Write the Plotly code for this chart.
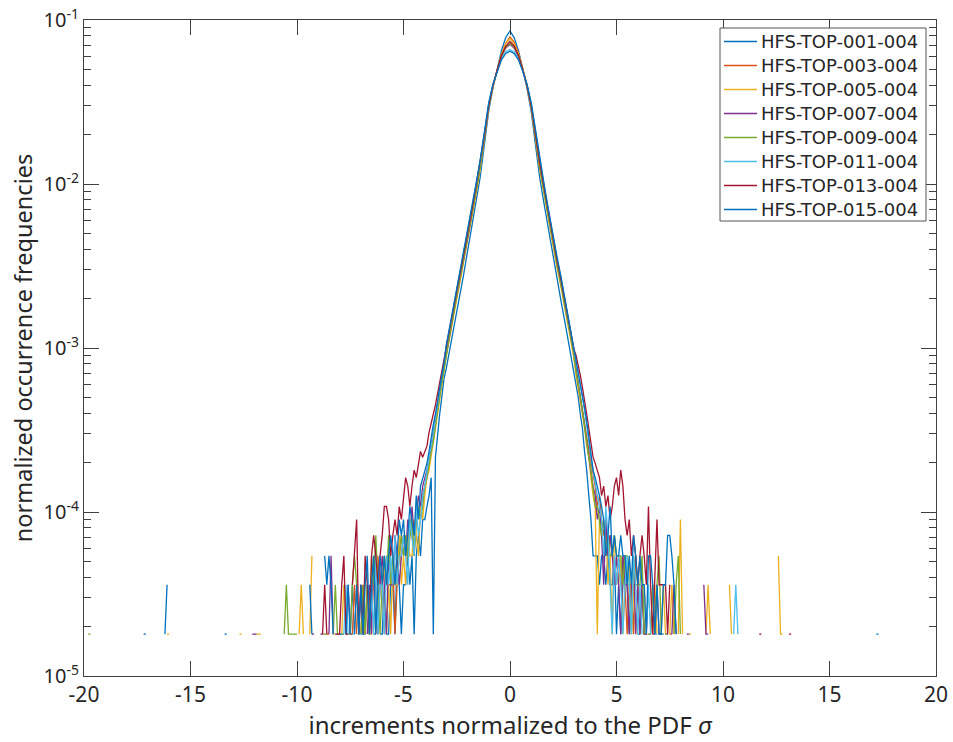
import plotly.graph_objects as go

# ---------------- data ----------------
UNIT = 1.8e-5  # normalized frequency of one single occurrence (one count in a 0.1-wide bin)

names = ["HFS-TOP-001-004", "HFS-TOP-003-004", "HFS-TOP-005-004", "HFS-TOP-007-004",
         "HFS-TOP-009-004", "HFS-TOP-011-004", "HFS-TOP-013-004", "HFS-TOP-015-004"]
colors = ["#0072BD", "#D95319", "#EDB120", "#7E2F8E", "#77AC30", "#4DBEEE", "#A2142F", "#0072BD"]

# central part of the PDF (frequencies), sampled every 0.2
x_core = [-3.0, -2.8, -2.6, -2.4, -2.2, -2.0, -1.8, -1.6, -1.4, -1.2, -1.0, -0.8, -0.6, -0.4, -0.2,
          0.0, 0.2, 0.4, 0.6, 0.8, 1.0, 1.2, 1.4, 1.6, 1.8, 2.0, 2.2, 2.4, 2.6, 2.8, 3.0]

core_001 = [0.000740, 0.00104, 0.00142, 0.00196, 0.00270, 0.00378, 0.00540, 0.00770, 0.0110, 0.0175, 0.0278,
            0.0385, 0.0505, 0.0652, 0.0782, 0.0857, 0.0779, 0.0648, 0.0501, 0.0382, 0.0274, 0.0172,
            0.0108, 0.00757, 0.00530, 0.00371, 0.00266, 0.00192, 0.00139, 0.00100, 0.000711]
core_003 = [0.000930, 0.00124, 0.00178, 0.00236, 0.00330, 0.00440, 0.00640, 0.00880, 0.0128, 0.0189, 0.0298,
            0.0395, 0.0498, 0.0620, 0.0722, 0.0790, 0.0730, 0.0628, 0.0505, 0.0400, 0.0292, 0.0193,
            0.0124, 0.00900, 0.00625, 0.00452, 0.00318, 0.00244, 0.00170, 0.00128, 0.000900]
core_005 = [0.000880, 0.00122, 0.00168, 0.00232, 0.00316, 0.00432, 0.00612, 0.00862, 0.0122, 0.0186, 0.0290,
            0.0392, 0.0500, 0.0618, 0.0716, 0.0770, 0.0715, 0.0620, 0.0498, 0.0392, 0.0288, 0.0186,
            0.0122, 0.00868, 0.00612, 0.00434, 0.00314, 0.00232, 0.00168, 0.00122, 0.000880]
core_007 = [0.000950, 0.00130, 0.00180, 0.00248, 0.00334, 0.00462, 0.00650, 0.00920, 0.0130, 0.0196, 0.0300,
            0.0400, 0.0492, 0.0600, 0.0675, 0.0710, 0.0672, 0.0598, 0.0494, 0.0398, 0.0298, 0.0195,
            0.0130, 0.00915, 0.00650, 0.00460, 0.00335, 0.00246, 0.00178, 0.00130, 0.000940]
core_009 = [0.000920, 0.00127, 0.00175, 0.00242, 0.00326, 0.00450, 0.00632, 0.00895, 0.0127, 0.0193, 0.0298,
            0.0398, 0.0496, 0.0604, 0.0680, 0.0722, 0.0682, 0.0606, 0.0497, 0.0399, 0.0296, 0.0192,
            0.0127, 0.00890, 0.00630, 0.00445, 0.00326, 0.00240, 0.00174, 0.00126, 0.000915]
core_011 = [0.00100, 0.00139, 0.00192, 0.00264, 0.00356, 0.00492, 0.00694, 0.00980, 0.0138, 0.0205, 0.0310,
            0.0405, 0.0490, 0.0580, 0.0640, 0.0662, 0.0638, 0.0578, 0.0488, 0.0404, 0.0308, 0.0206,
            0.0139, 0.00985, 0.00692, 0.00490, 0.00356, 0.00264, 0.00191, 0.00138, 0.00100]
core_013 = [0.00100, 0.00137, 0.00188, 0.00258, 0.00350, 0.00482, 0.00680, 0.00960, 0.0135, 0.0200, 0.0302,
            0.0400, 0.0496, 0.0608, 0.0690, 0.0740, 0.0692, 0.0606, 0.0495, 0.0398, 0.0300, 0.0199,
            0.0134, 0.00955, 0.00678, 0.00482, 0.00348, 0.00258, 0.00188, 0.00136, 0.000985]
core_015 = [0.00103, 0.00142, 0.00196, 0.00270, 0.00362, 0.00500, 0.00705, 0.00995, 0.0140, 0.0208, 0.0312,
            0.0406, 0.0488, 0.0572, 0.0625, 0.0645, 0.0624, 0.0570, 0.0487, 0.0405, 0.0311, 0.0208,
            0.0141, 0.00998, 0.00706, 0.00502, 0.00364, 0.00270, 0.00195, 0.00141, 0.00102]

# tails: occurrence counts in 0.1-wide bins, left = -10.0 ... -3.1, right = 3.1 ... 10.0
left_001 = [0,0,0,0,0,0,0,0,0,0, 0,0,1,1,0,0,0,0,0,0, 0,1,1,0,0,1,2,1,0,0, 0,1,1,2,1,0,1,1,0,1,
            1,2,1,1,2,2,1,3,2,1, 2,2,3,2,3,1,3,4,3,5, 5,6,7,9,1,12,17,22,28,36]
right_001 = [34,28,22,18,13,10,7,5,3,3, 3,2,3,3,2,3,2,2,3,1, 2,1,2,3,2,1,2,2,0,1, 1,2,1,0,1,1,0,1,1,0,
             1,1,0,0,0,0,0,0,0,0, 0,0,0,0,0,0,0,0,0,0, 0,0,0,0,0,0,0,0,0,0]
left_003 = [0,0,0,0,0,0,0,0,0,0, 0,0,0,0,1,1,0,0,0,1, 1,0,0,1,1,0,1,2,1,0, 1,2,1,0,1,2,2,1,3,2,
            2,1,3,2,2,3,1,2,3,4, 3,4,3,5,4,3,5,6,5,7, 8,9,11,13,16,19,24,29,34,41]
right_003 = [40,33,28,23,19,16,13,11,9,8, 6,7,5,4,5,3,4,3,3,2, 3,2,3,2,1,2,2,1,3,2, 1,2,1,1,0,1,2,1,0,1,
             1,1,0,0,1,1,0,0,0,0, 0,0,0,0,0,0,0,0,0,0, 0,0,0,0,0,0,0,0,0,0]
left_005 = [0,1,2,1,0,0,1,3,0,0, 0,0,1,1,0,0,0,1,1,0, 0,1,2,1,0,1,1,0,2,1, 1,0,1,2,1,1,3,2,1,2,
            2,3,1,2,1,3,2,2,4,2, 3,2,4,3,3,5,4,3,6,5, 7,9,10,12,15,18,22,27,33,39]
right_005 = [38,32,26,22,18,14,12,9,7,6, 1,5,4,3,5,2,3,1,4,3, 2,3,1,2,2,3,1,2,1,2, 1,0,2,1,1,0,1,2,1,0,
             1,2,1,0,1,2,1,0,1,5, 1,0,0,1,1,0,0,0,0,0, 0,1,2,1,0,0,0,0,0,0]
left_007 = [0,0,0,0,0,0,0,1,1,0, 0,1,1,0,0,1,3,1,0,0, 1,0,0,1,2,1,1,0,2,1, 2,1,0,1,2,1,3,2,1,2,
            3,2,1,3,2,2,4,3,2,3, 4,3,5,4,6,4,5,7,6,8, 9,10,12,14,17,21,25,30,36,42]
right_007 = [42,35,29,24,19,15,12,10,8,7, 5,6,4,2,5,3,4,3,2,3, 2,1,3,2,2,1,2,3,1,2, 1,2,1,1,2,0,1,1,2,1,
             1,0,1,1,0,1,2,1,0,0, 0,0,1,1,0,0,0,0,0,0, 2,1,1,0,0,0,0,0,0,0]
left_009 = [1,0,0,0,0,0,0,0,0,0, 0,0,0,1,1,0,0,1,2,1, 0,1,1,0,1,1,2,3,2,1, 1,2,1,2,1,3,2,4,2,1,
            2,3,2,4,2,3,2,3,3,4, 3,4,3,4,5,3,5,6,5,6, 8,9,11,13,15,19,23,28,34,40]
right_009 = [40,34,28,23,18,15,12,10,8,6, 6,5,4,5,3,4,3,3,4,3, 3,3,2,3,3,2,1,3,2,2, 2,3,1,0,1,1,2,1,2,3,
             1,0,1,1,0,0,1,2,3,1, 0,0,0,0,0,0,0,0,0,0, 0,0,0,0,0,0,0,0,0,0]
left_011 = [0,0,0,0,0,0,0,0,0,0, 0,0,0,0,0,0,0,0,1,1, 0,0,1,2,1,0,1,1,0,1, 1,1,0,2,1,2,1,3,1,2,
            2,1,3,2,3,2,4,2,3,3, 4,3,2,5,4,3,6,4,5,7, 8,10,12,14,17,21,26,31,37,44]
right_011 = [46,40,33,28,23,19,15,12,10,8, 7,6,5,3,6,4,2,1,3,2, 3,2,1,2,3,2,1,3,2,1, 2,1,0,1,2,1,0,1,1,0,
             1,1,0,0,1,0,0,0,0,0, 0,0,0,0,0,0,0,0,0,0, 0,0,0,0,0,0,0,0,0,0]
left_013 = [0,0,0,0,0,0,0,0,0,0, 0,0,1,2,1,0,0,0,1,1, 1,2,3,1,1,0,2,3,5,1, 2,1,3,2,1,3,4,3,2,3,
            4,6,6,5,3,4,5,4,6,5, 7,9,8,6,8,10,9,11,13,12, 13,14,17,19,22,25,29,34,40,47]
right_013 = [50,44,38,32,27,22,18,15,12,11, 10,9,7,8,6,7,5,6,8,9, 7,10,8,5,4,5,3,4,3,2, 3,4,3,2,6,2,1,2,5,2,
             2,2,2,1,2,0,1,0,0,0, 0,0,0,0,0,0,0,0,0,0, 0,0,0,0,0,0,0,0,0,0]
left_015 = [0,0,0,0,0,0,2,1,0,0, 0,1,0,3,2,3,2,1,0,0, 1,1,0,1,2,1,0,1,2,1, 2,1,2,3,1,2,3,1,2,3,
            2,3,2,3,4,3,2,3,5,4, 5,3,4,6,5,4,7,5,8,9, 10,11,13,16,19,22,27,32,38,45]
right_015 = [48,41,35,29,24,20,16,13,10,9, 8,7,6,5,3,4,6,3,4,3, 3,4,3,3,2,3,2,4,3,2, 3,2,2,1,3,3,2,1,2,1,
             1,2,2,4,4,3,2,1,0,0, 0,0,0,0,0,0,0,0,0,0, 0,0,0,0,0,0,0,0,0,0]

# isolated far-out occurrences (bin centre, count)
far_x_001 = [-13.4, -13.3];  far_c_001 = [1, 1]
far_x_003 = [];              far_c_003 = []
far_x_005 = [-16.1, -16.0, -12.7, -12.6, -11.9, -11.8, -11.7, 10.3, 10.4, 12.6, 12.7, 12.8]
far_c_005 = [1, 1, 1, 1, 1, 1, 1, 2, 1, 3, 1, 1]
far_x_007 = [-12.1, -12.0, -11.9];  far_c_007 = [1, 1, 1]
far_x_009 = [-19.8, -19.7, -10.6, -10.5, -10.4, -10.3, -10.2, -10.1]
far_c_009 = [1, 1, 1, 2, 1, 1, 1, 1]
far_x_011 = [10.5, 10.6, 10.7];  far_c_011 = [1, 2, 1]
far_x_013 = [11.7, 11.8, 13.1, 13.2];  far_c_013 = [1, 1, 1, 1]
far_x_015 = [-17.2, -17.1, -16.2, -16.1, 17.2, 17.3];  far_c_015 = [1, 1, 1, 2, 1, 1]

series = [
    (core_001, left_001, right_001, far_x_001, far_c_001),
    (core_003, left_003, right_003, far_x_003, far_c_003),
    (core_005, left_005, right_005, far_x_005, far_c_005),
    (core_007, left_007, right_007, far_x_007, far_c_007),
    (core_009, left_009, right_009, far_x_009, far_c_009),
    (core_011, left_011, right_011, far_x_011, far_c_011),
    (core_013, left_013, right_013, far_x_013, far_c_013),
    (core_015, left_015, right_015, far_x_015, far_c_015),
]

x_ticks = [-20, -15, -10, -5, 0, 5, 10, 15, 20]
y_ticks = [1e-5, 1e-4, 1e-3, 1e-2, 1e-1]
y_ticktext = ["10<sup>-5</sup>", "10<sup>-4</sup>", "10<sup>-3</sup>", "10<sup>-2</sup>", "10<sup>-1</sup>"]

# ---------------- build traces ----------------
grid_left = [round(-20.0 + 0.1 * i, 1) for i in range(170)]   # -20.0 .. -3.1
grid_right = [round(3.1 + 0.1 * i, 1) for i in range(170)]    # 3.1 .. 20.0
tail_left_x = [round(-10.0 + 0.1 * i, 1) for i in range(70)]  # -10.0 .. -3.1
tail_right_x = [round(3.1 + 0.1 * i, 1) for i in range(70)]   # 3.1 .. 10.0


def build(core, left, right, fx, fc):
    counts = {}
    for x, c in zip(tail_left_x, left):
        counts[x] = c
    for x, c in zip(tail_right_x, right):
        counts[x] = c
    for x, c in zip(fx, fc):
        counts[round(x, 1)] = c
    xs, ys = [], []
    for x in grid_left:
        c = counts.get(x, 0)
        xs.append(x)
        ys.append(c * UNIT if c > 0 else None)   # log(0) -> gap, as in the original
    xs += x_core
    ys += core
    for x in grid_right:
        c = counts.get(x, 0)
        xs.append(x)
        ys.append(c * UNIT if c > 0 else None)
    return xs, ys


FONT = "Noto Sans"
LEG_FONT = "DejaVu Sans"
AX = "#404040"
TXT = "#262626"

# plot-area geometry in pixels (for the hand-drawn legend)
W, H = 953, 742
L, R, T, B = 84, 17, 20, 66
PW, PH = W - L - R, H - T - B


def px(xp):
    return (xp - L) / PW


def py(yp):
    return 1 - (yp - T) / PH


fig = go.Figure()
for name, col, s in zip(names, colors, series):
    xs, ys = build(*s)
    fig.add_trace(go.Scatter(x=xs, y=ys, mode="lines", name=name,
                             line=dict(color=col, width=1.3), connectgaps=False))

# legend (drawn as shapes + text so its spacing matches the original)
shapes = [dict(type="rect", xref="paper", yref="paper", x0=px(720), x1=px(926), y0=py(221), y1=py(28),
               line=dict(color="#555555", width=1), fillcolor="white", layer="above")]
annotations = []
for i, (name, col) in enumerate(zip(names, colors)):
    yc = 41.5 + 24 * i
    shapes.append(dict(type="line", xref="paper", yref="paper", x0=px(724), x1=px(757),
                       y0=py(yc), y1=py(yc), line=dict(color=col, width=1.3), layer="above"))
    annotations.append(dict(xref="paper", yref="paper", x=px(760), y=py(yc), xanchor="left", yanchor="middle",
                            text=name, showarrow=False, borderpad=0,
                            font=dict(family=LEG_FONT, size=18, color=TXT)))

minor_vals = [m * 10.0 ** e for e in range(-5, -1) for m in range(2, 10)]

fig.update_layout(
    width=W, height=H,
    margin=dict(l=L, r=R, t=T, b=B),
    paper_bgcolor="white", plot_bgcolor="white",
    font=dict(family=FONT, size=20, color=TXT),
    showlegend=False,
    shapes=shapes, annotations=annotations,
    xaxis=dict(range=[-20, 20], tickmode="array", tickvals=x_ticks,
               ticktext=[str(v) for v in x_ticks],
               ticks="inside", ticklen=15, tickcolor=AX, tickwidth=1,
               showline=True, linecolor=AX, linewidth=1, mirror="ticks",
               showgrid=False, zeroline=False, automargin=False, ticklabeloverflow="allow",
               tickfont=dict(size=21),
               title=dict(text="increments normalized to the PDF <i>σ</i>", font=dict(size=24), standoff=4)),
    yaxis=dict(type="log", range=[-5, -1], tickmode="array", tickvals=y_ticks, ticktext=y_ticktext,
               ticks="inside", ticklen=15, tickcolor=AX, tickwidth=1,
               showline=True, linecolor=AX, linewidth=1, mirror="ticks",
               showgrid=False, zeroline=False, automargin=False, ticklabeloverflow="allow",
               minor=dict(tickvals=minor_vals, ticks="inside", ticklen=7, tickcolor=AX, showgrid=False),
               tickfont=dict(size=20),
               title=dict(text="normalized occurrence frequencies", font=dict(size=23.5), standoff=4)),
)

fig.write_html("out.html")
